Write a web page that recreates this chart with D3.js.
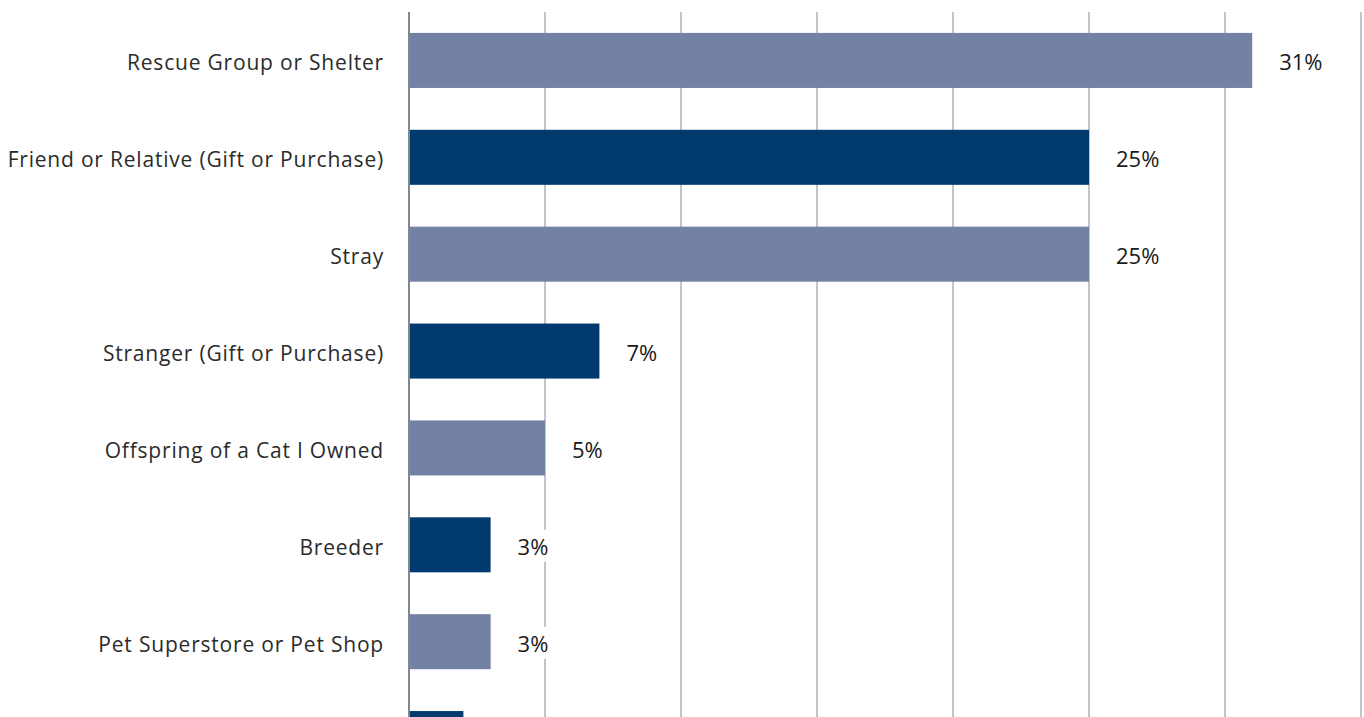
<!DOCTYPE html>
<html>
<head>
<meta charset="utf-8">
<script src="https://cdn.jsdelivr.net/npm/d3@7"></script>
<style>
  html, body { margin: 0; padding: 0; background: #fff; }
  svg { display: block; }
  text { font-family: "Open Sans", Roboto, "Liberation Sans", sans-serif; }
</style>
</head>
<body>
<svg id="chart" width="1364" height="717"></svg>
<script>
// Where cats were acquired (share of respondents, %)
const categories = [
  "Rescue Group or Shelter",
  "Friend or Relative (Gift or Purchase)",
  "Stray",
  "Stranger (Gift or Purchase)",
  "Offspring of a Cat I Owned",
  "Breeder",
  "Pet Superstore or Pet Shop",
  "Other"
];
const values = [31, 25, 25, 7, 5, 3, 3, 2];
const gridTicks = [0, 5, 10, 15, 20, 25, 30, 35];

const lightColor = "#7381a4";
const darkColor = "#003a6e";
const W = 1364, H = 717;

const svg = d3.select("#chart");

const x = d3.scaleLinear().domain([0, 35]).range([409, 1361]);
const y = d3.scaleBand()
  .domain(categories)
  .range([12, 787])
  .paddingInner(0.432)
  .paddingOuter(0.216);

// vertical gridlines
svg.append("g")
  .selectAll("line")
  .data(gridTicks.slice(1))
  .join("line")
  .attr("x1", d => x(d)).attr("x2", d => x(d))
  .attr("y1", 12).attr("y2", H)
  .attr("stroke", "#c0c5c9")
  .attr("stroke-width", 2);

const data = categories.map((c, i) => ({ cat: c, val: values[i], i }));
const mid = d => y(d.cat) + y.bandwidth() / 2;
// only label rows whose text sits inside the drawing area
const labelled = data.filter(d => mid(d) + 10 < H);

// bars
svg.append("g")
  .selectAll("rect")
  .data(data)
  .join("rect")
  .attr("x", x(0))
  .attr("y", d => y(d.cat))
  .attr("width", d => x(d.val) - x(0))
  .attr("height", y.bandwidth())
  .attr("fill", d => d.i % 2 === 0 ? lightColor : darkColor);

// baseline axis
svg.append("line")
  .attr("x1", x(0)).attr("x2", x(0))
  .attr("y1", 12).attr("y2", H)
  .attr("stroke", "#7d8892")
  .attr("stroke-width", 2);

// category labels
svg.append("g")
  .selectAll("text")
  .data(labelled)
  .join("text")
  .attr("x", 384)
  .attr("y", d => mid(d) + 10)
  .attr("text-anchor", "end")
  .attr("font-size", 21)
  .attr("letter-spacing", "0.8px")
  .attr("fill", "#2b2b2b")
  .text(d => d.cat);

// value labels with white backing
const vl = svg.append("g")
  .selectAll("g")
  .data(labelled)
  .join("g");

vl.append("text")
  .attr("x", d => x(d.val) + 27)
  .attr("y", d => mid(d) + 10)
  .attr("font-size", 22)
  .attr("fill", "#1a1a1a")
  .text(d => d.val + "%");

vl.each(function () {
  const g = d3.select(this);
  const b = g.select("text").node().getBBox();
  g.insert("rect", "text")
    .attr("x", b.x - 2).attr("y", b.y - 1)
    .attr("width", b.width + 4).attr("height", b.height + 2)
    .attr("fill", "#fff");
});
</script>
</body>
</html>
